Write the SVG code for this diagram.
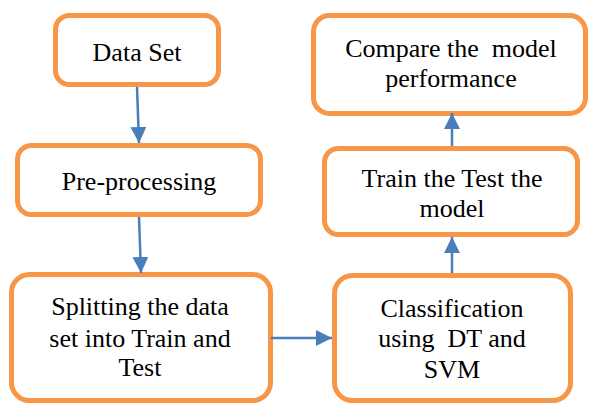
<svg xmlns="http://www.w3.org/2000/svg" width="589" height="403" viewBox="0 0 589 403">
<style>
.box{fill:#fff;stroke:#F79646;stroke-width:5}
.lbl{font-size:26px;fill:#000;text-anchor:middle;white-space:pre}
.con{stroke:#4A7EBB;stroke-width:2.5;fill:none;marker-end:url(#ah)}
</style>
<defs>
<marker id="ah" markerUnits="userSpaceOnUse" markerWidth="16" markerHeight="16" viewBox="0 0 15 15" refX="15" refY="7.5" orient="auto">
<path d="M0,0 L15,7.5 L0,15 Z" fill="#4A7EBB"/>
</marker>
</defs>
<rect width="589" height="403" fill="#fff"/>
<g font-family="Liberation Serif, DejaVu Serif, serif">
<g id="n-dataset"><rect class="box" x="55.5" y="15.5" width="163" height="69" rx="14"/><text class="lbl" x="137" y="61">Data Set</text></g>
<g id="n-preprocessing"><rect class="box" x="17.5" y="145.5" width="243" height="69" rx="14"/><text class="lbl" x="139" y="190">Pre-processing</text></g>
<g id="n-splitting"><rect class="box" x="11.5" y="274.5" width="259" height="126" rx="18"/><text class="lbl" x="140" y="315">Splitting the data</text><text class="lbl" x="140" y="347">set into Train and</text><text class="lbl" x="140" y="376">Test</text></g>
<g id="n-classification"><rect class="box" x="334.5" y="275.5" width="236" height="125" rx="18"/><text class="lbl" x="452" y="317">Classification</text><text class="lbl" x="452" y="347">using  DT and</text><text class="lbl" x="452" y="378">SVM</text></g>
<g id="n-train"><rect class="box" x="324.5" y="148.5" width="253" height="86" rx="14"/><text class="lbl" x="452" y="187">Train the Test the</text><text class="lbl" x="452" y="217">model</text></g>
<g id="n-compare"><rect class="box" x="313.5" y="15.5" width="272" height="98" rx="16"/><text class="lbl" x="451" y="57">Compare the  model</text><text class="lbl" x="451" y="87">performance</text></g>
</g>
<g id="connectors">
<path class="con" d="M137,87 L139,143"/>
<path class="con" d="M139,217 L141,273"/>
<path class="con" d="M271,338 L332,338"/>
<path class="con" d="M452,273 L452,237"/>
<path class="con" d="M452,146 L452,113"/>
</g>
</svg>
